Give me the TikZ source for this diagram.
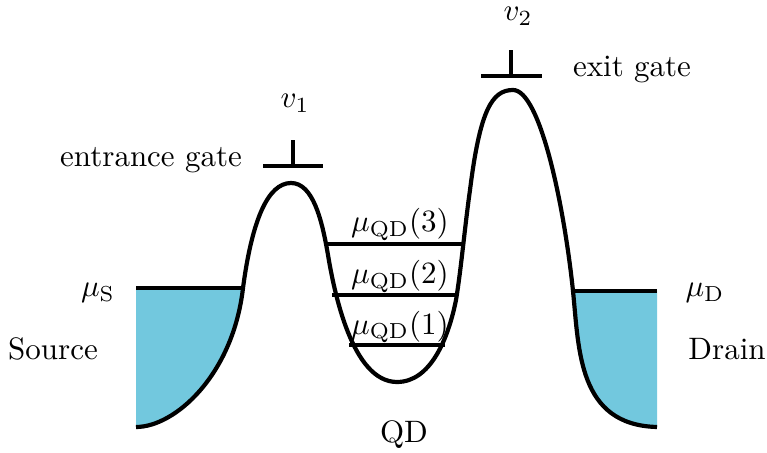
\documentclass[tikz,border=0pt]{standalone}
\definecolor{fermi}{RGB}{114,200,222}
\begin{document}
\begin{tikzpicture}[x=0.3226pt,y=-0.3226pt,line width=1.35pt,
  lbl/.style={anchor=base,inner sep=0pt},
  gatebar/.style={line width=1.35pt}]
\useasboundingbox (0,0) rectangle (767,453);
% reservoirs
\fill[fermi] (136,288) -- (243,288) .. controls (233,375) and (175,427) .. (136,427) -- cycle;
\fill[fermi] (573,291) -- (657,291) -- (657,427) .. controls (578,425) and (579,350) .. (573,291) -- cycle;
% potential landscape
\draw[line join=round] (136,427) .. controls (175,427) and (233,375) .. (243,288)
  .. controls (252,220) and (268,183) .. (291,183)
  .. controls (313,183) and (322,220) .. (328,255)
  .. controls (334,291) and (352,382) .. (397,382)
  .. controls (430,382) and (448,340) .. (456,300)
  .. controls (461,270) and (465,225) .. (470,190)
  .. controls (480,110) and (492,90) .. (513,90)
  .. controls (540,90) and (564,205) .. (573,291)
  .. controls (579,350) and (578,425) .. (657,427);
% Fermi levels
\coordinate (s1) at (136,288); \coordinate (s2) at (243,288);
\coordinate (d1) at (573,291); \coordinate (d2) at (657,291);
\draw (s1) -- (s2);
\draw (d1) -- (d2);
% dot levels
\coordinate (l3a) at (327,244); \coordinate (l3b) at (463,244);
\coordinate (l2a) at (332,295); \coordinate (l2b) at (457,295);
\coordinate (l1a) at (349,345); \coordinate (l1b) at (445,345);
\draw (l3a) -- (l3b);
\draw (l2a) -- (l2b);
\draw (l1a) -- (l1b);
% gates
\coordinate (g1l) at (263,166); \coordinate (g1r) at (323,166);
\coordinate (g1m) at (293,166); \coordinate (g1t) at (293,140);
\draw[gatebar] (g1l) -- (g1r); \draw[gatebar] (g1m) -- (g1t);
\coordinate (g2l) at (481,76); \coordinate (g2r) at (542,76);
\coordinate (g2m) at (511,76); \coordinate (g2t) at (511,50);
\draw[gatebar] (g2l) -- (g2r); \draw[gatebar] (g2m) -- (g2t);
% labels
\node[lbl] (v1) at (295,108) {$v_1$};
\node[lbl] (v2) at (518,21) {$v_2$};
\node[lbl] (eg) at (151,167) {entrance gate};
\node[lbl] (xg) at (632,77) {exit gate};
\node[lbl] (muS) at (98,297) {$\mu_{\mathrm{S}}$};
\node[lbl] (muD) at (705,297) {$\mu_{\mathrm{D}}$};
\node[lbl] (src) at (53,359) {Source};
\node[lbl] (drn) at (727,359) {Drain};
\node[lbl] (qd) at (404,443) {QD};
\node[lbl] (m3) at (400,232) {$\mu_{\mathrm{QD}}(3)$};
\node[lbl] (m2) at (400,284) {$\mu_{\mathrm{QD}}(2)$};
\node[lbl] (m1) at (400,334) {$\mu_{\mathrm{QD}}(1)$};
\end{tikzpicture}
\end{document}
